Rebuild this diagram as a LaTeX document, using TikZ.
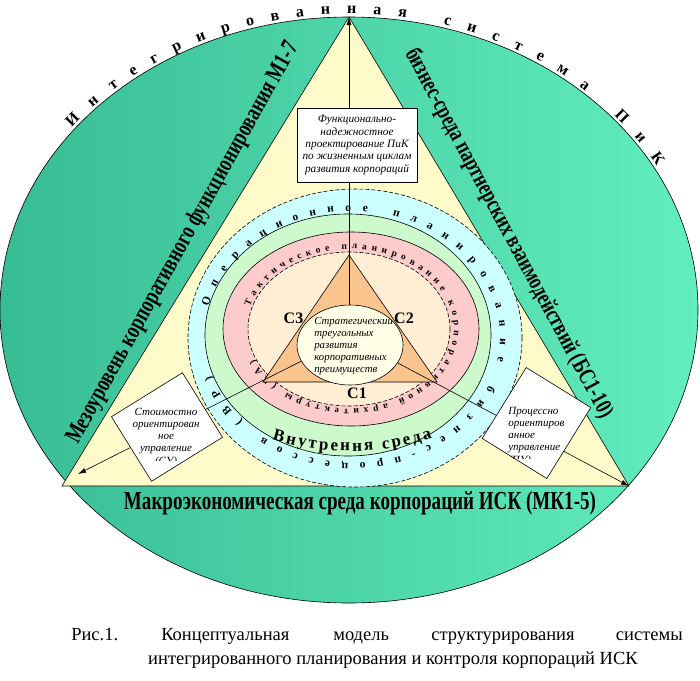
\documentclass[tikz,border=0pt]{standalone}
\usepackage{fontspec}
\setmainfont{Liberation Serif}
\usepackage{graphicx}
\usetikzlibrary{decorations.text,arrows.meta}
\definecolor{tealA}{RGB}{56,188,148}
\definecolor{tealB}{RGB}{98,238,190}
\definecolor{triY}{RGB}{255,250,202}
\definecolor{ringC}{RGB}{204,255,255}
\definecolor{ringG}{RGB}{204,250,204}
\definecolor{ringP}{RGB}{252,204,204}
\definecolor{innerP}{RGB}{255,238,212}
\definecolor{triO}{RGB}{250,196,142}
\definecolor{coreY}{RGB}{255,255,232}
\begin{document}
\begin{tikzpicture}[x=1pt,y=1pt,line width=0.6pt,
  arr/.style={-{Latex[length=8pt,width=5pt]}},
  boxtext/.style={font=\fontsize{11}{12.3}\selectfont\itshape, inner sep=0pt},
  edgetext/.style={inner sep=0pt},
  ringline/.style={dash pattern=on 4pt off 2pt},
  clabel/.style={font=\fontsize{16}{16}\selectfont\bfseries, inner sep=0pt},
  captext/.style={font=\fontsize{18.5}{22}\selectfont, inner sep=0pt}]
\useasboundingbox (0,0) rectangle (700,-680);
\fill[white] (0,0) rectangle (700,-680);

% big ellipse
\path[draw, left color=tealA, right color=tealB] (349,-310) ellipse [x radius=349, y radius=293];
\path[decorate, decoration={text along path, text align=fit to path,
  text={|\fontsize{16}{16}\selectfont\bfseries|Интегрированная система ПиК}}]
  (349,-310) ++(142:352 and 296) arc[start angle=142, end angle=29, x radius=352, y radius=296];

% big triangle
\coordinate (A) at (349,-17);
\coordinate (B) at (62,-486);
\coordinate (C) at (629,-486);
\draw[fill=triY] (A) -- (B) -- (C) -- cycle;

% texts along the triangle
\node[edgetext, rotate=61] (mezo) at (183,-243) {\resizebox{455pt}{17pt}{\bfseries Мезоуровень корпоративного функционирования М1-7}};
\node[edgetext, rotate=-61.8] (biz) at (508.5,-233.5) {\resizebox{416pt}{17pt}{\bfseries бизнес-среда партнерских взаимодействий (БС1-10)}};
\node[edgetext, anchor=base] (macro) at (360,-509) {\resizebox{472pt}{18pt}{\bfseries Макроэкономическая среда корпораций ИСК (МК1-5)}};

% rings
\draw[ringline, fill=ringC] (355,-338) ellipse [x radius=167, y radius=149];
\draw[fill=ringG] (348,-335) ellipse [x radius=143, y radius=121];
\draw[fill=ringP] (351,-329) ellipse [x radius=128, y radius=97];
\draw[ringline, fill=innerP] (349,-329) ellipse [x radius=101, y radius=77];

\path[decorate, decoration={text along path, text align=fit to path,
  text={|\fontsize{11.5}{11.5}\selectfont\bfseries|Операционное планирование бизнес-процессов (ВР)}}]
  (352,-337) ++(166:148 and 126) arc[start angle=166, end angle=-162, x radius=148, y radius=126];
\path[decorate, decoration={text along path, text align=fit to path,
  text={|\fontsize{9.5}{9.5}\selectfont\bfseries|Тактическое планирование корпоративной архитектуры (КА)}}]
  (350,-329) ++(164:104 and 80) arc[start angle=164, end angle=-157, x radius=104, y radius=80];
\path[decorate, decoration={text along path, text align=fit to path,
  text={|\fontsize{17}{17}\selectfont\bfseries|Внутрення среда}}]
  (350,-185) ++(-107:266) arc[start angle=-107, end angle=-72, radius=266];

% inner triangle
\draw[fill=triO] (349,-255) -- (263,-382) -- (437,-382) -- cycle;

% connectors
\coordinate (O) at (349,-337);
\coordinate (BL) at (78,-474);
\draw[arr] (O) -- (A);
\draw[arr] (O) -- (BL);
\draw[arr] (O) -- (C);

% labels
\node[clabel] (c3) at (293.5,-318) {C3};
\node[clabel] (c2) at (404,-318) {C2};
\node[clabel] (c1) at (357,-393) {C1};

% core ellipse
\draw[fill=coreY] (350,-345) ellipse [x radius=53, y radius=40];
\begin{scope}
\clip (350,-345) ellipse [x radius=53, y radius=40];
\node[anchor=north west, align=left, inner sep=0pt, font=\fontsize{10.8}{12}\selectfont\itshape] (coretext) at (314,-317) {Стратегический\\треугольных\\развития\\корпоративных\\преимуществ};
\end{scope}

% top box
\node[draw, fill=white, minimum width=120pt, minimum height=74pt, align=center, inner sep=0pt, font=\fontsize{11.3}{12.3}\selectfont\itshape] (topbox) at (357,-145) {Функционально-\\надежностное\\проектирование ПиК\\по жизненным циклам\\развития корпораций};

% left box
\node[draw, fill=white, rotate=31.8, minimum width=83.5pt, minimum height=76pt, inner sep=0pt] (sbox) at (167,-427) {};
\begin{scope}
\clip (sbox.north west) -- (sbox.north east) -- (sbox.south east) -- (sbox.south west) -- cycle;
\clip (0,0) rectangle (700,-460);
\node[anchor=north, align=center, boxtext] (stext) at (166,-407.5) {Стоимостно\\ориентирован\\ное\\управление\\(СУ)};
\end{scope}

% right box
\node[draw, fill=white, rotate=58.2, minimum width=83.5pt, minimum height=76pt, inner sep=0pt] (pbox) at (536.5,-423) {};
\begin{scope}
\clip (pbox.north west) -- (pbox.north east) -- (pbox.south east) -- (pbox.south west) -- cycle;
\clip (0,0) rectangle (700,-458);
\node[anchor=north west, align=left, boxtext] (ptext) at (508,-406.5) {Процессно\\ориентиров\\анное\\управление\\(ПУ)};
\end{scope}

% caption
\node[captext, anchor=base west] (cap1) at (71,-640) {Рис.1.};
\node[captext, anchor=base west] (cap2) at (161,-640) {Концептуальная};
\node[captext, anchor=base west] (cap3) at (333,-640) {модель};
\node[captext, anchor=base west] (cap4) at (431,-640) {структурирования};
\node[captext, anchor=base east] (cap5) at (683,-640) {системы};
\node[captext, anchor=base] (cap6) at (393,-664) {интегрированного планирования и контроля корпораций ИСК};
\end{tikzpicture}
\end{document}
